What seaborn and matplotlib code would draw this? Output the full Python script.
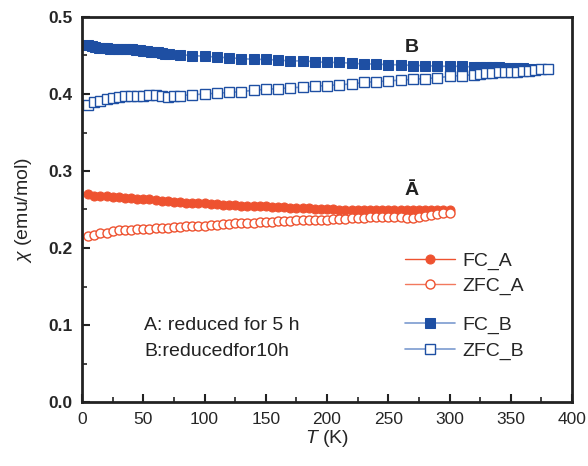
import matplotlib
matplotlib.use("Agg")
import matplotlib.pyplot as plt
import seaborn as sns
import numpy as np

sns.set_theme(style="white")
plt.rcParams['font.family'] = ['Liberation Sans', 'DejaVu Sans']
plt.rcParams['mathtext.fontset'] = 'custom'
plt.rcParams['mathtext.it'] = 'Liberation Sans:italic'
plt.rcParams['mathtext.rm'] = 'Liberation Sans'

# ---------------- data ----------------
T_fc_b = [5, 8, 11, 14, 17, 20, 23, 26, 29, 32, 35, 38, 41, 44, 47, 50, 53, 56, 59, 62, 65, 68, 71,
          80, 90, 100, 110, 120, 130, 140, 150, 160, 170, 180, 190, 200, 210, 220, 230, 240,
          250, 260, 270, 280, 290, 300, 310, 320, 325, 330, 335, 340, 345, 350, 355, 360, 365, 370]
chi_fc_b = [0.463, 0.462, 0.461, 0.460, 0.460, 0.460, 0.459, 0.459, 0.459, 0.459, 0.459, 0.458, 0.458,
            0.457, 0.457, 0.456, 0.456, 0.455, 0.454, 0.454, 0.453, 0.452, 0.452,
            0.451, 0.450, 0.449, 0.448, 0.447, 0.446, 0.445, 0.445, 0.444, 0.443, 0.443, 0.442,
            0.441, 0.441, 0.440, 0.439, 0.439, 0.438, 0.438, 0.437, 0.437, 0.436, 0.436, 0.436,
            0.435, 0.435, 0.435, 0.435, 0.435, 0.434, 0.434, 0.434, 0.434, 0.433, 0.433]

T_zfc_b = [5, 10, 15, 20, 25, 30, 35, 40, 45, 50, 55, 60, 65, 70, 75,
           80, 90, 100, 110, 120, 130, 140, 150, 160, 170, 180, 190, 200, 210, 220, 230, 240,
           250, 260, 270, 280, 290, 300, 310, 320, 325, 330, 335, 340, 345, 350, 355, 360,
           365, 370, 375, 380]
chi_zfc_b = [0.386, 0.389, 0.391, 0.393, 0.395, 0.396, 0.397, 0.398, 0.398, 0.398, 0.399, 0.399,
             0.397, 0.396, 0.397, 0.398, 0.399, 0.400, 0.401, 0.402, 0.403, 0.405, 0.406, 0.407,
             0.408, 0.409, 0.410, 0.411, 0.412, 0.413, 0.415, 0.416, 0.417, 0.418, 0.419, 0.420,
             0.421, 0.423, 0.424, 0.425, 0.426, 0.427, 0.427, 0.428, 0.428, 0.429, 0.429, 0.430,
             0.430, 0.431, 0.432, 0.432]

T_fc_a = [5, 10, 15, 20, 25, 30, 35, 40, 45, 50, 55, 60, 65, 70, 75, 80, 85, 90, 95, 100,
          105, 110, 115, 120, 125, 130, 135, 140, 145, 150, 155, 160, 165, 170, 175, 180, 185,
          190, 195, 200, 205, 210, 215, 220, 225, 230, 235, 240, 245, 250, 255, 260, 265, 270,
          275, 280, 285, 290, 295, 300]
chi_fc_a = [0.270, 0.268, 0.267, 0.267, 0.266, 0.266, 0.265, 0.265, 0.264, 0.264, 0.263, 0.262,
            0.261, 0.261, 0.260, 0.260, 0.259, 0.259, 0.258, 0.258, 0.257, 0.257, 0.256, 0.256,
            0.256, 0.255, 0.255, 0.254, 0.254, 0.254, 0.253, 0.253, 0.253, 0.252, 0.252, 0.252,
            0.252, 0.251, 0.251, 0.251, 0.251, 0.250, 0.250, 0.250, 0.250, 0.250, 0.249, 0.249,
            0.249, 0.249, 0.249, 0.249, 0.249, 0.249, 0.249, 0.249, 0.249, 0.249, 0.249, 0.249]

T_zfc_a = [5, 10, 15, 20, 25, 30, 35, 40, 45, 50, 55, 60, 65, 70, 75, 80, 85, 90, 95, 100,
           105, 110, 115, 120, 125, 130, 135, 140, 145, 150, 155, 160, 165, 170, 175, 180, 185,
           190, 195, 200, 205, 210, 215, 220, 225, 230, 235, 240, 245, 250, 255, 260, 265, 270,
           275, 280, 285, 290, 295, 300]
chi_zfc_a = [0.215, 0.217, 0.219, 0.220, 0.222, 0.223, 0.224, 0.224, 0.225, 0.225, 0.225, 0.226,
             0.226, 0.226, 0.227, 0.227, 0.228, 0.228, 0.229, 0.229, 0.230, 0.230, 0.231, 0.231,
             0.232, 0.232, 0.233, 0.233, 0.234, 0.234, 0.234, 0.235, 0.235, 0.235, 0.236, 0.236,
             0.236, 0.237, 0.237, 0.237, 0.238, 0.238, 0.238, 0.239, 0.239, 0.239, 0.240, 0.240,
             0.240, 0.240, 0.240, 0.240, 0.239, 0.239, 0.240, 0.242, 0.243, 0.244, 0.245, 0.246]

labels = ["FC_A", "ZFC_A", "FC_B", "ZFC_B"]
x_ticks = [0, 50, 100, 150, 200, 250, 300, 350, 400]
y_ticks = [0.0, 0.1, 0.2, 0.3, 0.4, 0.5]

# ---------------- styles ----------------
orange = "#EE5230"
orange_light = "#F2795E"
blue = "#1E4FA3"
blue_light = "#7C9BD0"

fig = plt.figure(figsize=(5.88, 4.66), dpi=100)
ax = fig.add_axes([82/588, 64/466, 490/588, 385/466])

ms = 6.5
sns.lineplot(x=T_fc_a, y=chi_fc_a, ax=ax, color=orange, lw=1.0, marker='o', markersize=ms,
             markerfacecolor=orange, markeredgecolor=orange, label=labels[0], sort=False)
sns.lineplot(x=T_zfc_a, y=chi_zfc_a, ax=ax, color=orange_light, lw=1.0, marker='o', markersize=ms,
             markerfacecolor='white', markeredgecolor=orange, markeredgewidth=1.0,
             label=labels[1], sort=False)
sns.lineplot(x=T_fc_b, y=chi_fc_b, ax=ax, color=blue_light, lw=1.2, marker='s', markersize=ms,
             markerfacecolor=blue, markeredgecolor=blue, label=labels[2], sort=False)
sns.lineplot(x=T_zfc_b, y=chi_zfc_b, ax=ax, color=blue_light, lw=1.2, marker='s', markersize=ms,
             markerfacecolor='white', markeredgecolor=blue, markeredgewidth=1.0,
             label=labels[3], sort=False)

ax.set_xlim(0, 400)
ax.set_ylim(0, 0.5)
ax.set_xticks(x_ticks)
ax.set_yticks(y_ticks)
ax.set_xticklabels([str(v) for v in x_ticks], fontsize=12.5)
ax.set_yticklabels([f"{v:.1f}" for v in y_ticks], fontsize=12.5, fontweight='bold')
ax.set_xticks(np.arange(25, 400, 50), minor=True)
ax.set_yticks(np.arange(0.05, 0.5, 0.1), minor=True)
ax.tick_params(which='major', direction='in', length=6, width=1.5, color='#222222',
               bottom=True, left=True, top=False, right=False, pad=7)
ax.tick_params(which='minor', direction='in', length=3.5, width=1.2, color='#222222',
               bottom=True, left=True, top=False, right=False)
for s in ax.spines.values():
    s.set_linewidth(2.0)
    s.set_color('#222222')

ax.set_xlabel(r"$T$ (K)", fontsize=14, labelpad=1)
ax.set_ylabel(r"$\chi$ (emu/mol)", fontsize=14, labelpad=10)

ax.text(269, 0.461, "B", fontsize=14, fontweight='bold', ha='center', va='center', color='#222222')
ax.text(269, 0.275, "Ā", fontsize=14, fontweight='bold', ha='center', va='center', color='#222222')
ax.text(51, 0.100, "A: reduced for 5 h", fontsize=14, ha='left', va='center', color='#222222')
ax.text(51, 0.065, "B:reducedfor10h", fontsize=14, ha='left', va='center', color='#222222')

handles, labs = ax.get_legend_handles_labels()
leg1 = ax.legend(handles[:2], labs[:2], loc='upper left', bbox_to_anchor=(0.659, 0.389),
                 frameon=False, fontsize=14, handlelength=2.6, handletextpad=0.35,
                 labelspacing=0.35, borderaxespad=0, borderpad=0)
ax.add_artist(leg1)
ax.legend(handles[2:], labs[2:], loc='upper left', bbox_to_anchor=(0.659, 0.224),
          frameon=False, fontsize=14, handlelength=2.6, handletextpad=0.35,
          labelspacing=0.45, borderaxespad=0, borderpad=0)

fig.savefig("out.png", dpi=100)
